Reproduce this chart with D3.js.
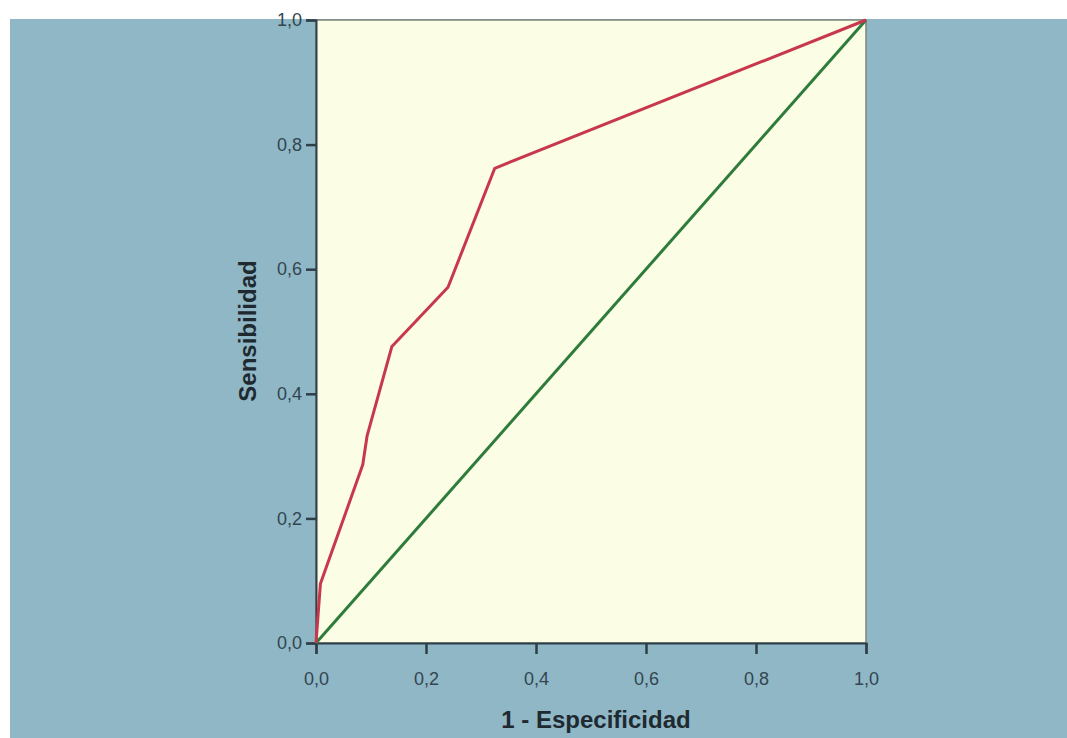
<!DOCTYPE html>
<html><head><meta charset="utf-8">
<script src="https://cdn.jsdelivr.net/npm/d3@7"></script>
<style>html,body{margin:0;padding:0;background:#fff;}svg{display:block;}</style>
</head><body>
<svg id="chart" width="1067" height="738"></svg>
<script>
// Data
const rocFPR = [0, 0.008, 0.085, 0.093, 0.138, 0.240, 0.325, 1.0];
const rocTPR = [0, 0.095, 0.286, 0.333, 0.476, 0.571, 0.762, 1.0];
const refFPR = [0, 1];
const refTPR = [0, 1];
const tickValues = [0, 0.2, 0.4, 0.6, 0.8, 1.0];
const xTitle = "1 - Especificidad";
const yTitle = "Sensibilidad";

(function () {
const svg = d3.select("#chart");
const W = 1067, H = 738;
const mLeft = 316, mRight = 866, mTop = 20, mBottom = 643;
const FONT = "'Liberation Sans', Arial, sans-serif";

svg.append("rect").attr("x", 10).attr("y", 19).attr("width", W - 10).attr("height", H - 19).attr("fill", "#8fb7c6");

const x = d3.scaleLinear().domain([0, 1]).range([mLeft, mRight]);
const y = d3.scaleLinear().domain([0, 1]).range([mBottom, mTop]);

svg.append("rect").attr("x", mLeft).attr("y", mTop).attr("width", mRight - mLeft).attr("height", mBottom - mTop)
  .attr("fill", "#fbfde5").attr("stroke", "#7d8580").attr("stroke-width", 1.5);

const fmt = d => d3.format(".1f")(d).replace(".", ",");

const xAxis = svg.append("g").attr("transform", `translate(0,${mBottom})`)
  .call(d3.axisBottom(x).tickValues(tickValues).tickFormat(fmt).tickSize(11).tickPadding(18));
const yAxis = svg.append("g").attr("transform", `translate(${mLeft},0)`)
  .call(d3.axisLeft(y).tickValues(tickValues).tickFormat(fmt).tickSize(10).tickPadding(4));

[xAxis, yAxis].forEach(g => {
  g.select(".domain").attr("stroke", "#2f3f48").attr("stroke-width", 2);
  g.selectAll(".tick line").attr("stroke", "#2f3f48").attr("stroke-width", 2.5);
  g.selectAll(".tick text").attr("fill", "#34454f").style("font-family", FONT).style("font-size", "18px");
});

const line = d3.line().x(d => x(d[0])).y(d => y(d[1]));

svg.append("path").datum(refFPR.map((v, i) => [v, refTPR[i]]))
  .attr("d", line).attr("fill", "none").attr("stroke", "#2e7b3c").attr("stroke-width", 3);
svg.append("path").datum(rocFPR.map((v, i) => [v, rocTPR[i]]))
  .attr("d", line).attr("fill", "none").attr("stroke", "#c8384c").attr("stroke-width", 3).attr("stroke-linejoin", "round");

svg.append("text").attr("x", 596).attr("y", 728)
  .attr("text-anchor", "middle").attr("fill", "#1e2a30")
  .style("font-family", FONT).style("font-weight", "bold").style("font-size", "24px")
  .text(xTitle);
svg.append("text").attr("transform", `translate(256,331) rotate(-90)`)
  .attr("text-anchor", "middle").attr("fill", "#1e2a30")
  .style("font-family", FONT).style("font-weight", "bold").style("font-size", "24px")
  .text(yTitle);
})();
</script>
</body></html>
